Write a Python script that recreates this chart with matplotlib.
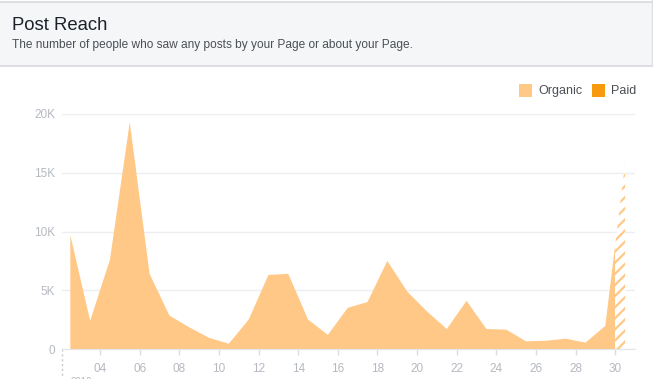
import matplotlib
matplotlib.use("Agg")
import matplotlib.pyplot as plt
from matplotlib.patches import Rectangle
import numpy as np

# daily post reach, points sit in the middle of each day
days = [2.5, 3.5, 4.5, 5.5, 6.5, 7.5, 8.5, 9.5, 10.5, 11.5, 12.5, 13.5, 14.5,
        15.5, 16.5, 17.5, 18.5, 19.5, 20.5, 21.5, 22.5, 23.5, 24.5, 25.5,
        26.5, 27.5, 28.5, 29.5, 30.5]
organic = [9700, 2400, 7600, 19300, 6400, 2850, 1850, 950, 450, 2500, 6300,
           6400, 2500, 1200, 3500, 4000, 7500, 4900, 3200, 1700, 4100, 1700,
           1650, 650, 700, 880, 540, 1960, 15800]
paid = [0] * len(days)
partial_from = 30  # last day still in progress -> hatched

xticks = [4, 6, 8, 10, 12, 14, 16, 18, 20, 22, 24, 26, 28, 30]
xticklabels = ['04', '06', '08', '10', '12', '14', '16', '18', '20', '22',
               '24', '26', '28', '30']
yticks = [0, 5000, 10000, 15000, 20000]
yticklabels = ['0', '5K', '10K', '15K', '20K']

ORG = '#ffc886'
PAID = '#f79a0f'
GRID = '#eceef1'
TICK = '#b5b9c0'

plt.rcParams['font.family'] = ['Liberation Sans', 'DejaVu Sans']
plt.rcParams['hatch.linewidth'] = 1.6

W, H = 653, 379
fig = plt.figure(figsize=(W / 100, H / 100), dpi=100)
fig.patch.set_facecolor('white')

# header band
fig.patches.append(Rectangle((0, (H - 66) / H), 1, 64 / H,
                             transform=fig.transFigure, facecolor='#f5f6f7',
                             edgecolor='none', zorder=0))
for yy in (H - 1.5, H - 66):
    fig.add_artist(plt.Line2D([0, 1], [yy / H, yy / H], color='#dddfe2',
                              lw=1.5, transform=fig.transFigure))
fig.add_artist(plt.Line2D([652 / W, 652 / W], [(H - 66) / H, 1],
                          color='#dddfe2', lw=1, transform=fig.transFigure))
fig.text(12 / W, 1 - 25 / H, 'Post Reach', fontsize=13.3, color='#1d2129',
         va='center', ha='left')
fig.text(12 / W, 1 - 45 / H,
         'The number of people who saw any posts by your Page or about your Page.',
         fontsize=8.6, color='#4b4f56', va='center', ha='left')

# plot area in pixels
left, right, bottom, top = 62, 635, 349, 114
ax = fig.add_axes([left / W, (H - bottom) / H, (right - left) / W,
                   (bottom - top) / H])
ax.set_xlim(2.08, 31.0)
ax.set_ylim(0, 20000)

x = np.array(days)
org = np.array(organic)
pd_ = np.array(paid)

hatched = ax.fill_between(x, 0, org, facecolor='white', edgecolor=ORG,
                          hatch='///', linewidth=0, zorder=2)
hatched.set_clip_path(Rectangle((partial_from, 0), 5, 30000,
                                transform=ax.transData))
solid = ax.fill_between(x, 0, org, facecolor=ORG, linewidth=0, zorder=3)
solid.set_clip_path(Rectangle((0, 0), partial_from, 30000,
                              transform=ax.transData))
ax.fill_between(x, org, org + pd_, facecolor=PAID, linewidth=0, zorder=3)

ax.set_yticks(yticks)
ax.set_yticklabels(yticklabels)
ax.set_xticks(xticks)
ax.set_xticklabels(xticklabels)
ax.grid(axis='y', color=GRID, lw=1, zorder=1)
ax.set_axisbelow(True)
for s in ('top', 'right', 'left'):
    ax.spines[s].set_visible(False)
ax.spines['bottom'].set_color('#e3e5e8')
ax.spines['bottom'].set_zorder(4)
ax.tick_params(axis='y', length=0, pad=5, labelsize=8.5, labelcolor=TICK)
ax.tick_params(axis='x', length=4, width=1, color='#dadde1', pad=6,
               labelsize=8.5, labelcolor=TICK)

# dotted marker at the start of the axis with month label running off
ax.plot([2.08, 2.08], [0, -2300], ls=(0, (1.5, 2)), color='#c5c8cd', lw=1,
        clip_on=False, zorder=4)
ax.text(2.5, -2350, '2019', fontsize=7, color=TICK, va='top', ha='left',
        clip_on=False)

# legend
for sx, label, col in ((519, 'Organic', ORG), (592, 'Paid', PAID)):
    fig.patches.append(Rectangle((sx / W, (H - 97) / H), 13 / W, 13 / H,
                                 transform=fig.transFigure, facecolor=col,
                                 edgecolor='none'))
    fig.text((sx + 19) / W, 1 - 91 / H, label, fontsize=9,
             color='#4b4f56', va='center', ha='left')

fig.savefig('out.png', dpi=100)
